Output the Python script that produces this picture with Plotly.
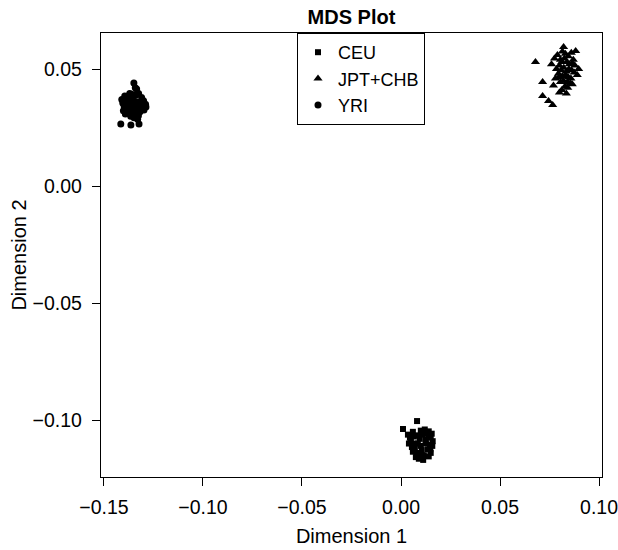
import plotly.graph_objects as go

# ---- data ----
ceu_x = [
    0.0081, 0.0010, 0.0060, 0.0035, 0.0045,
    0.0100, 0.0120, 0.0140, 0.0155, 0.0130,
    0.0050, 0.0040, 0.0065, 0.0085, 0.0110,
    0.0150, 0.0160, 0.0145, 0.0055, 0.0070,
    0.0095, 0.0125, 0.0158, 0.0060, 0.0080,
    0.0105, 0.0135, 0.0150, 0.0075, 0.0090,
    0.0115, 0.0140, 0.0085, 0.0100, 0.0125,
    0.0068, 0.0148, 0.0112, 0.0092, 0.0138,
]
ceu_y = [
    -0.1004, -0.1038, -0.1050, -0.1062, -0.1075,
    -0.1045, -0.1040, -0.1048, -0.1058, -0.1055,
    -0.1090, -0.1100, -0.1070, -0.1065, -0.1062,
    -0.1075, -0.1090, -0.1105, -0.1115, -0.1120,
    -0.1080, -0.1085, -0.1110, -0.1135, -0.1140,
    -0.1128, -0.1125, -0.1140, -0.1158, -0.1165,
    -0.1150, -0.1155, -0.1100, -0.1110, -0.1100,
    -0.1100, -0.1125, -0.1170, -0.1145, -0.1070,
]

jpt_x = [
    0.0679, 0.0715, 0.0715, 0.0745, 0.0766,
    0.0897, 0.0882, 0.0821, 0.0760, 0.0775,
    0.0790, 0.0805, 0.0815, 0.0830, 0.0845,
    0.0860, 0.0870, 0.0785, 0.0800, 0.0812,
    0.0825, 0.0838, 0.0850, 0.0865, 0.0878,
    0.0795, 0.0808, 0.0822, 0.0835, 0.0848,
    0.0862, 0.0875, 0.0890, 0.0780, 0.0798,
    0.0815, 0.0832, 0.0845, 0.0858, 0.0805,
    0.0820, 0.0840, 0.0855, 0.0770, 0.0828,
    0.0842, 0.0812, 0.0800, 0.0865, 0.0835,
]
jpt_y = [
    0.0530, 0.0445, 0.0385, 0.0363, 0.0346,
    0.0500, 0.0577, 0.0594, 0.0520, 0.0545,
    0.0560, 0.0540, 0.0575, 0.0565, 0.0555,
    0.0570, 0.0540, 0.0500, 0.0515, 0.0530,
    0.0545, 0.0530, 0.0520, 0.0525, 0.0515,
    0.0480, 0.0495, 0.0505, 0.0490, 0.0500,
    0.0495, 0.0485, 0.0475, 0.0460, 0.0465,
    0.0470, 0.0475, 0.0465, 0.0460, 0.0445,
    0.0450, 0.0445, 0.0440, 0.0430, 0.0425,
    0.0420, 0.0410, 0.0400, 0.0435, 0.0395,
]

yri_x = [
    -0.1349, -0.1335, -0.1370, -0.1395, -0.1410,
    -0.1380, -0.1360, -0.1340, -0.1325, -0.1310,
    -0.1300, -0.1290, -0.1405, -0.1390, -0.1372,
    -0.1355, -0.1338, -0.1320, -0.1305, -0.1288,
    -0.1398, -0.1378, -0.1362, -0.1345, -0.1330,
    -0.1315, -0.1298, -0.1385, -0.1368, -0.1350,
    -0.1333, -0.1318, -0.1402, -0.1375, -0.1358,
    -0.1342, -0.1326, -0.1365, -0.1348, -0.1392,
    -0.1415, -0.1364, -0.1323, -0.1330, -0.1342,
]
yri_y = [
    0.0440, 0.0415, 0.0395, 0.0385, 0.0370,
    0.0380, 0.0392, 0.0388, 0.0395, 0.0378,
    0.0365, 0.0350, 0.0355, 0.0362, 0.0368,
    0.0372, 0.0360, 0.0358, 0.0345, 0.0338,
    0.0340, 0.0348, 0.0352, 0.0346, 0.0340,
    0.0332, 0.0325, 0.0330, 0.0335, 0.0328,
    0.0322, 0.0318, 0.0322, 0.0315, 0.0310,
    0.0305, 0.0300, 0.0298, 0.0292, 0.0308,
    0.0265, 0.0261, 0.0265, 0.0285, 0.0420,
]

x_ticks = [-0.15, -0.10, -0.05, 0.00, 0.05, 0.10]
x_labels = ["\u22120.15", "\u22120.10", "\u22120.05", "0.00", "0.05", "0.10"]
y_ticks = [-0.10, -0.05, 0.00, 0.05]
y_labels = ["\u22120.10", "\u22120.05", "0.00", "0.05"]

FONT = "Liberation Sans, Arial, Helvetica, sans-serif"

W, H = 618, 550

fig = go.Figure()
fig.add_trace(go.Scatter(x=ceu_x, y=ceu_y, mode="markers", name="CEU",
                         marker=dict(symbol="square", size=6, color="black")))
fig.add_trace(go.Scatter(x=jpt_x, y=jpt_y, mode="markers", name="JPT+CHB",
                         marker=dict(symbol="triangle-up", size=8, color="black")))
fig.add_trace(go.Scatter(x=yri_x, y=yri_y, mode="markers", name="YRI",
                         marker=dict(symbol="circle", size=7, color="black")))

axis_common = dict(
    showgrid=False, zeroline=False, showline=True, linecolor="black",
    linewidth=1.2, mirror=True, ticks="outside", ticklen=8, tickwidth=1,
    tickcolor="black", tickfont=dict(family=FONT, size=19.5, color="black"),
    automargin=False, ticklabeloverflow="allow",
)

fig.update_layout(
    width=W, height=H,
    margin=dict(l=101, r=16, t=33, b=73, autoexpand=False),
    paper_bgcolor="white", plot_bgcolor="white",
    font=dict(family=FONT, color="black"),
    title=dict(text="<b>MDS Plot</b>", x=0.5, xref="paper", xanchor="center",
               y=1 - 17 / H, yref="container", yanchor="middle",
               font=dict(family=FONT, size=20, color="black")),
    xaxis=dict(range=[-0.1515, 0.1015], tickvals=x_ticks, ticktext=x_labels,
               title=dict(text="Dimension 1", standoff=12,
                          font=dict(family=FONT, size=20, color="black")),
               ticklabelstandoff=4,
               **axis_common),
    yaxis=dict(range=[-0.1243, 0.0654], tickvals=y_ticks, ticktext=y_labels,
               title=dict(text="Dimension 2", standoff=0,
                          font=dict(family=FONT, size=20, color="black")),
               ticklabelstandoff=6,
               **axis_common),
    legend=dict(x=(361 - 101) / 501, xanchor="center", y=1, yanchor="top",
                bordercolor="black", borderwidth=1, bgcolor="white",
                font=dict(family=FONT, size=18, color="black"),
                itemwidth=30, tracegroupgap=0),
    showlegend=True,
)

# remove the browser's default 8px body margin so the figure fills the window
fig.write_html("out.html",
               config={"displayModeBar": False, "staticPlot": True},
               post_script="document.body.style.margin='0';document.body.style.overflow='hidden';")
